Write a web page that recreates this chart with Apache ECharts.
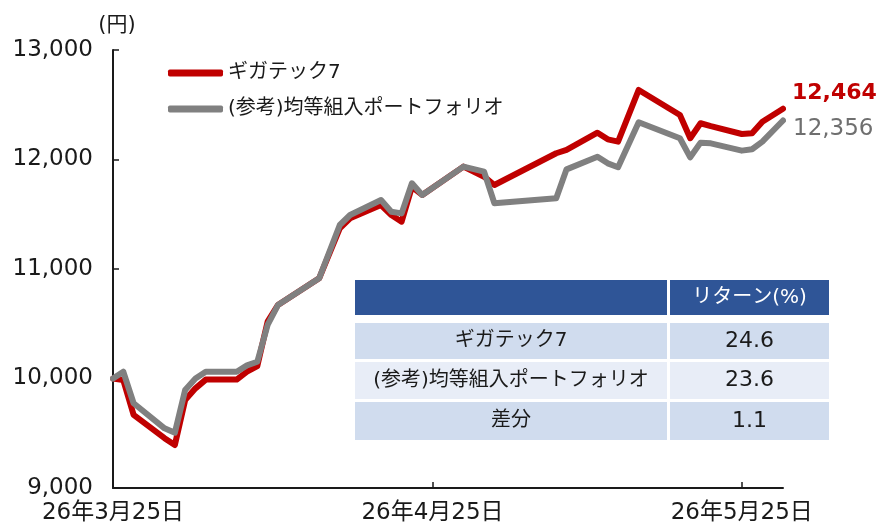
<!DOCTYPE html>
<html>
<head>
<meta charset="utf-8">
<script src="https://cdn.jsdelivr.net/npm/echarts@6/dist/echarts.min.js"></script>
<style>
  html, body { margin: 0; padding: 0; background: #fff; }
  #main { width: 889px; height: 528px; }
</style>
</head>
<body>
<div id="main"></div>
<script>
// 日付（営業日のうち折れ点が読めるもの）
const dates = ['2026-03-25','2026-03-26','2026-03-27','2026-03-30','2026-03-31','2026-04-01','2026-04-02',
  '2026-04-03','2026-04-06','2026-04-07','2026-04-08','2026-04-09','2026-04-10','2026-04-14','2026-04-16',
  '2026-04-17','2026-04-20','2026-04-21','2026-04-22','2026-04-23','2026-04-24','2026-04-28','2026-04-30',
  '2026-05-01','2026-05-07','2026-05-08','2026-05-11','2026-05-12','2026-05-13','2026-05-15','2026-05-19',
  '2026-05-20','2026-05-21','2026-05-22','2026-05-25','2026-05-26','2026-05-27','2026-05-29'];
const gigatech = [10000, 9986, 9667, 9455, 9393, 9804, 9910,
  9990, 9990, 10062, 10114, 10519, 10671, 10915, 11372,
  11463, 11584, 11493, 11432, 11750, 11676, 11935, 11843,
  11767, 12057, 12087, 12245, 12184, 12163, 12635, 12406,
  12194, 12331, 12304, 12233, 12239, 12345, 12464];
const equalPf = [10000, 10062, 9774, 9545, 9505, 9895, 10000,
  10062, 10062, 10120, 10153, 10489, 10671, 10915, 11402,
  11493, 11630, 11523, 11508, 11783, 11676, 11935, 11889,
  11600, 11646, 11910, 12026, 11965, 11929, 12340, 12194,
  12020, 12154, 12148, 12081, 12094, 12163, 12356];
const seriesNames = ['ギガテック7', '(参考)均等組入ポートフォリオ'];

const xStart = '2026-03-25';
const xEnd = '2026-05-29';
const tickDates = ['2026-03-25', '2026-04-25', '2026-05-25'];
const tickLabels = ['26年3月25日', '26年4月25日', '26年5月25日'];

// 表
const tableHead = ['', 'リターン(%)'];
const tableNames = ['ギガテック7', '(参考)均等組入ポートフォリオ', '差分'];
const tableReturns = ['24.6', '23.6', '1.1'];

// 起点からの日数
function day(s) {
  const p = s.split('-').map(Number);
  const q = xStart.split('-').map(Number);
  return Math.round((Date.UTC(p[0], p[1] - 1, p[2]) - Date.UTC(q[0], q[1] - 1, q[2])) / 86400000);
}
function comma(v) {
  return String(v).replace(/\B(?=(\d{3})+(?!\d))/g, ',');
}

const NUM_FONT = '"DejaVu Sans", "Noto Sans CJK JP", sans-serif';
const JP_FONT = '"DejaVu Sans", "Noto Sans CJK JP", sans-serif';

const tickDays = tickDates.map(day);

// 表の図形
const colX = [355, 670], colW = [312, 159];
const rowY = [280, 323, 362, 402], rowH = [35, 36, 37, 38];
const rowColors = ['#2f5597', '#d0dcee', '#e8edf7', '#d0dcee'];
const graphics = [];
for (let r = 0; r < 4; r++) {
  for (let c = 0; c < 2; c++) {
    graphics.push({
      type: 'rect',
      shape: { x: colX[c], y: rowY[r], width: colW[c], height: rowH[r] },
      style: { fill: rowColors[r] },
      silent: true
    });
    let txt = r === 0 ? tableHead[c] : (c === 0 ? tableNames[r - 1] : tableReturns[r - 1]);
    if (!txt) continue;
    graphics.push({
      type: 'text',
      x: colX[c] + colW[c] / 2,
      y: rowY[r] + rowH[r] / 2,
      style: {
        text: txt,
        fill: r === 0 ? '#fff' : '#1a1a1a',
        font: (c === 1 && r > 0 ? '22px ' : '20px ') + JP_FONT,
        align: 'center',
        verticalAlign: 'middle'
      },
      silent: true
    });
  }
}

const myChart = echarts.init(document.getElementById('main'));
myChart.setOption({
  animation: false,
  backgroundColor: '#fff',
  grid: {
    left: 113,
    right: 106,
    top: 50,
    bottom: 40,
    outerBoundsMode: 'none'
  },
  legend: {
    orient: 'vertical',
    left: 163,
    top: 58,
    itemWidth: 55,
    itemHeight: 7,
    itemGap: 16,
    icon: 'roundRect',
    textStyle: { fontSize: 20, color: '#1a1a1a', fontFamily: JP_FONT, lineHeight: 20 },
    data: seriesNames
  },
  xAxis: {
    type: 'value',
    min: day(xStart),
    max: day(xEnd),
    axisLine: { lineStyle: { color: '#1a1a1a', width: 2 } },
    axisTick: { show: true, inside: true, length: 6, customValues: tickDays, lineStyle: { color: '#1a1a1a', width: 1.5 } },
    splitLine: { show: false },
    axisLabel: {
      customValues: tickDays,
      margin: 14,
      fontSize: 23,
      color: '#1a1a1a',
      fontFamily: NUM_FONT,
      formatter: function (v) {
        const i = tickDays.indexOf(v);
        return i >= 0 ? tickLabels[i] : '';
      }
    }
  },
  yAxis: {
    type: 'value',
    min: 9000,
    max: 13000,
    interval: 1000,
    name: '(円)',
    nameLocation: 'end',
    nameGap: 14,
    nameTextStyle: { fontSize: 21, color: '#1a1a1a', fontFamily: JP_FONT, padding: [0, 0, 0, 8] },
    axisLine: { show: true, lineStyle: { color: '#1a1a1a', width: 2 } },
    axisTick: { show: true, inside: true, length: 6, lineStyle: { color: '#1a1a1a', width: 1.5 } },
    splitLine: { show: false },
    axisLabel: {
      margin: 20,
      fontSize: 23,
      color: '#1a1a1a',
      fontFamily: NUM_FONT,
      formatter: function (v) { return comma(v); }
    }
  },
  series: [{
    name: seriesNames[0],
    type: 'line',
    data: dates.map((d, i) => [day(d), gigatech[i]]),
    symbol: 'none',
    color: '#c00000',
    lineStyle: { width: 6, color: '#c00000', cap: 'round', join: 'round' },
    endLabel: {
      show: true,
      distance: 9,
      offset: [0, -15],
      fontSize: 22,
      fontWeight: 'bold',
      fontFamily: NUM_FONT,
      color: '#c00000',
      formatter: function (p) { return comma(p.value[1]); }
    },
    z: 2
  }, {
    name: seriesNames[1],
    type: 'line',
    data: dates.map((d, i) => [day(d), equalPf[i]]),
    symbol: 'none',
    color: '#808080',
    lineStyle: { width: 6, color: '#808080', cap: 'round', join: 'round' },
    endLabel: {
      show: true,
      distance: 10,
      offset: [0, 9],
      fontSize: 23,
      fontFamily: NUM_FONT,
      color: '#6f6f6f',
      formatter: function (p) { return comma(p.value[1]); }
    },
    z: 3
  }],
  graphic: graphics
});
window.onresize = myChart.resize;
</script>
</body>
</html>
